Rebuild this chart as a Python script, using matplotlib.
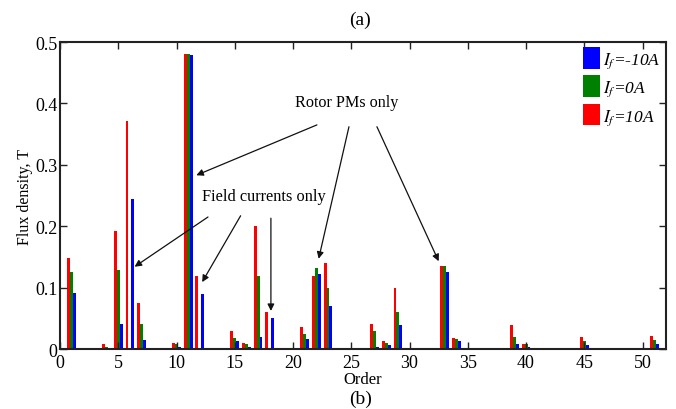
import numpy as np
import matplotlib
matplotlib.use("Agg")
import matplotlib.pyplot as plt

plt.rcParams["font.family"] = ["Liberation Serif", "DejaVu Serif"]
plt.rcParams["mathtext.fontset"] = "stix"

# harmonic orders and flux density amplitudes (T) for each field current
orders = [1, 4, 5, 6, 7, 10, 11, 12, 15, 16, 17, 18, 21, 22, 23, 27, 28, 29,
          33, 34, 39, 40, 45, 51]
b_neg10 = [0.091, 0.000, 0.040, 0.244, 0.015, 0.004, 0.479, 0.090, 0.013, 0.003,
           0.020, 0.050, 0.017, 0.122, 0.070, 0.003, 0.006, 0.039, 0.125, 0.013,
           0.008, 0.004, 0.007, 0.008]
b_zero = [0.125, 0.003, 0.129, 0.000, 0.040, 0.008, 0.481, 0.000, 0.018, 0.008,
          0.119, 0.000, 0.024, 0.132, 0.099, 0.029, 0.010, 0.060, 0.135, 0.016,
          0.020, 0.008, 0.013, 0.014]
b_pos10 = [0.148, 0.008, 0.193, 0.372, 0.075, 0.010, 0.480, 0.119, 0.029, 0.010,
           0.200, 0.060, 0.036, 0.119, 0.140, 0.041, 0.013, 0.099, 0.135, 0.018,
           0.039, 0.008, 0.020, 0.021]

x = np.array(orders, dtype=float)
w = 0.25

fig = plt.figure(figsize=(6.76, 4.10), dpi=100)
ax = fig.add_axes([0.0888, 0.1463, 0.8962, 0.7488])

ax.bar(x + w, b_neg10, width=w, color="#0000ff", label=r"$I_f$=-10A")
ax.bar(x, b_zero, width=w, color="#008000", label=r"$I_f$=0A")
ax.bar(x - w, b_pos10, width=w, color="#ff0000", label=r"$I_f$=10A")

ax.set_xlim(0, 52)
ax.set_ylim(0, 0.5)
ax.set_xticks(np.arange(0, 51, 5))
ax.set_yticks([0, 0.1, 0.2, 0.3, 0.4, 0.5])
ax.set_yticklabels(["0", "0.1", "0.2", "0.3", "0.4", "0.5"])
ax.tick_params(direction="in", top=True, right=True, labelsize=13, length=5,
               width=1.0, colors="#222222", labelcolor="black")
ax.tick_params(axis="y", pad=2)
for s in ax.spines.values():
    s.set_linewidth(1.5)
    s.set_color("#222222")

ax.set_xlabel("Order", fontsize=12, labelpad=0)
ax.set_ylabel("Flux density, T", fontsize=11.5)
ax.yaxis.set_label_coords(-0.044, 0.5)

leg = ax.legend(loc="upper right", frameon=False, fontsize=12.5,
                handlelength=1.0, handleheight=1.55, handletextpad=0.15,
                labelspacing=0.3, borderpad=0.0, borderaxespad=0.3)
for t in leg.get_texts():
    t.set_fontstyle("italic")

arrow = dict(arrowstyle="-|>", color="#111111", lw=0.9, mutation_scale=10,
             shrinkA=0, shrinkB=0)

ax.text(24.6, 0.402, "Rotor PMs only", fontsize=11.6, ha="center", va="center")
for tail, head in [((22.05, 0.365), (11.7, 0.283)),
                   ((24.8, 0.362), (22.2, 0.147)),
                   ((27.2, 0.362), (32.5, 0.143))]:
    ax.annotate("", xy=head, xytext=tail, arrowprops=arrow)

ax.text(17.5, 0.249, "Field currents only", fontsize=11.8, ha="center", va="center")
for tail, head in [((12.7, 0.215), (6.4, 0.134)),
                   ((15.5, 0.217), (12.2, 0.109)),
                   ((18.1, 0.213), (18.1, 0.062))]:
    ax.annotate("", xy=head, xytext=tail, arrowprops=arrow)

fig.text(0.533, 0.951, "(a)", fontsize=14, ha="center", va="center")
fig.text(0.533, 0.027, "(b)", fontsize=14, ha="center", va="center")

fig.savefig("out.png", dpi=100)
